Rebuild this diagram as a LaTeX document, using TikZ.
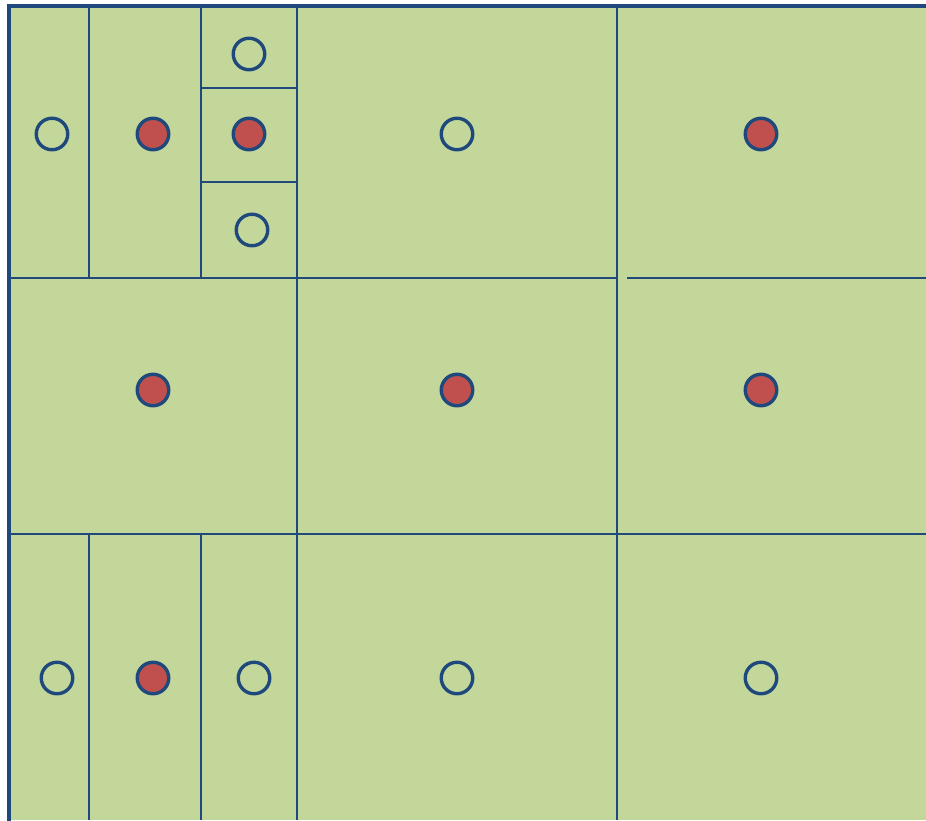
\documentclass[tikz,border=0pt]{standalone}
\definecolor{cellgreen}{HTML}{C4D79B}
\definecolor{lineblue}{HTML}{1F497D}
\definecolor{dotred}{HTML}{C0504D}
\tikzset{
  grid line/.style={draw=lineblue, line width=1.8pt},
  frame line/.style={draw=lineblue, line width=4pt},
  empty dot/.style={circle, draw=lineblue, line width=3.4pt, minimum size=31.5pt, inner sep=0pt, fill=cellgreen},
  full dot/.style={circle, draw=lineblue, line width=3.4pt, minimum size=31.5pt, inner sep=0pt, fill=dotred},
}
\begin{document}
\begin{tikzpicture}[x=1pt,y=-1pt]
\useasboundingbox (0,0) rectangle (926,820);
\fill[cellgreen] (9,6) rectangle (926,820);
% grid lines
\coordinate (v1t) at (89,6);   \coordinate (v1m) at (89,278);
\coordinate (v2t) at (201,6);  \coordinate (v2m) at (201,278);
\coordinate (v3t) at (297,6);  \coordinate (v3b) at (297,820);
\coordinate (v4t) at (617,6);  \coordinate (v4b) at (617,820);
\coordinate (v1s) at (89,534); \coordinate (v1b) at (89,820);
\coordinate (v2s) at (201,534); \coordinate (v2b) at (201,820);
\coordinate (h1l) at (9,278);  \coordinate (h1m) at (617,278);
\coordinate (h1r0) at (627,278); \coordinate (h1r) at (926,278);
\coordinate (h2l) at (9,534);  \coordinate (h2r) at (926,534);
\coordinate (s1l) at (201,88); \coordinate (s1r) at (297,88);
\coordinate (s2l) at (201,182); \coordinate (s2r) at (297,182);
\draw[grid line] (v1t) -- (v1m);
\draw[grid line] (v2t) -- (v2m);
\draw[grid line] (v3t) -- (v3b);
\draw[grid line] (v4t) -- (v4b);
\draw[grid line] (v1s) -- (v1b);
\draw[grid line] (v2s) -- (v2b);
\draw[grid line] (h1l) -- (h1m);
\draw[grid line] (h1r0) -- (h1r);
\draw[grid line] (h2l) -- (h2r);
\draw[grid line] (s1l) -- (s1r);
\draw[grid line] (s2l) -- (s2r);
% frame
\coordinate (fb) at (9,820); \coordinate (fc) at (9,6); \coordinate (fr) at (926,6);
\draw[frame line, line cap=rect] (fb) -- (fc) -- (fr);
% dots
\node[empty dot] (d1) at (52,134) {};
\node[full dot]  (d2) at (153,134) {};
\node[empty dot] (d3) at (249,54) {};
\node[full dot]  (d4) at (249,134) {};
\node[empty dot] (d5) at (252,230) {};
\node[empty dot] (d6) at (457,134) {};
\node[full dot]  (d7) at (761,134) {};
\node[full dot]  (d8) at (153,390) {};
\node[full dot]  (d9) at (457,390) {};
\node[full dot]  (d10) at (761,390) {};
\node[empty dot] (d11) at (57,678) {};
\node[full dot]  (d12) at (153,678) {};
\node[empty dot] (d13) at (254,678) {};
\node[empty dot] (d14) at (457,678) {};
\node[empty dot] (d15) at (761,678) {};
\end{tikzpicture}
\end{document}
